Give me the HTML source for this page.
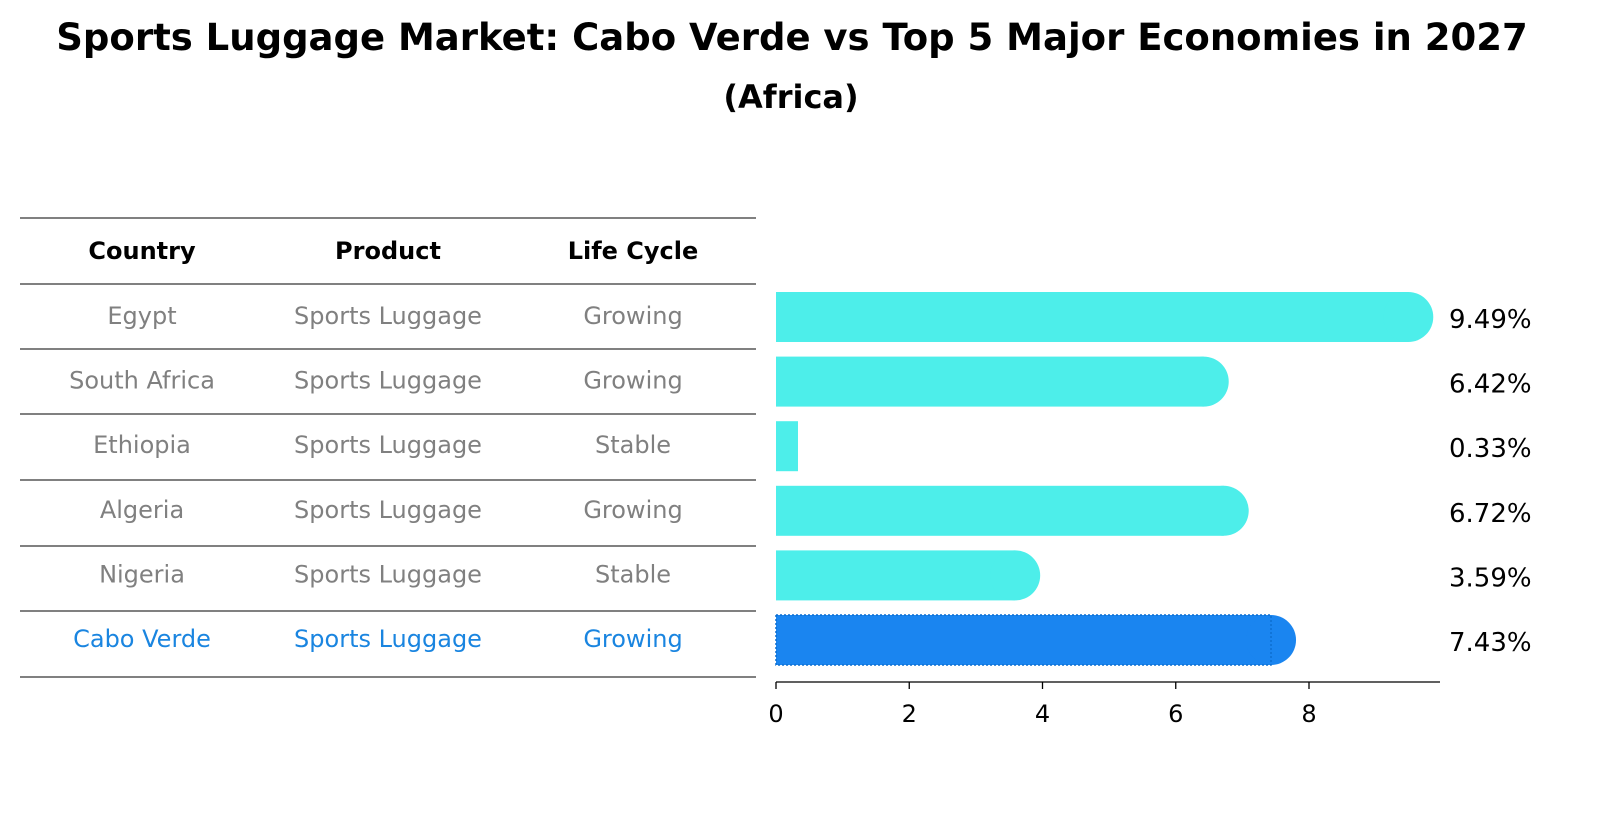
<!DOCTYPE html>
<html><head><meta charset="utf-8">
<style>
body{margin:0;background:#fff;font-family:"Liberation Sans","DejaVu Sans",sans-serif;}
svg text{font-family:"DejaVu Sans","Liberation Sans",sans-serif;}
</style></head>
<body>
<svg id="chart" width="1600" height="823" xmlns="http://www.w3.org/2000/svg">
<text x="792" y="50" text-anchor="middle" font-size="37" font-weight="bold">Sports Luggage Market: Cabo Verde vs Top 5 Major Economies in 2027</text>
<text x="791" y="108" text-anchor="middle" font-size="32" font-weight="bold">(Africa)</text>
<g id="table"></g>
<g id="bars"></g>
</svg>
<script>
const countries=["Egypt","South Africa","Ethiopia","Algeria","Nigeria","Cabo Verde"];
const products=["Sports Luggage","Sports Luggage","Sports Luggage","Sports Luggage","Sports Luggage","Sports Luggage"];
const lifeCycles=["Growing","Growing","Stable","Growing","Stable","Growing"];
const values=[9.49,6.42,0.33,6.72,3.59,7.43];
const ticks=[0,2,4,6,8];
const highlight="Cabo Verde";

const NS="http://www.w3.org/2000/svg";
function mk(tag,attrs,parent){const e=document.createElementNS(NS,tag);for(const k in attrs)e.setAttribute(k,attrs[k]);parent.appendChild(e);return e;}
const x0=776,unit=(1309-776)/8;
const xs=v=>x0+v*unit;
const rowY=i=>318+i*64.6;
const table=document.getElementById('table');
const bars=document.getElementById('bars');
const lines=[218,284,349,414,480,546,611,677];
lines.forEach((y,i)=>{
  const l=mk('line',{x1:20,x2:756,y1:y,y2:y,stroke:'#000','stroke-width':1},table);
  
  
});
const cols=[142,388,633];
["Country","Product","Life Cycle"].forEach((h,j)=>{
  const t=mk('text',{x:cols[j],y:259,'text-anchor':'middle','font-size':24,'font-weight':'bold'},table);
  t.textContent=h;
  
  
});
countries.forEach((c,i)=>{
  const color=c===highlight?'#1a85e0':'#808080';
  const y=rowY(i)+6;
  [c,products[i],lifeCycles[i]].forEach((s,j)=>{
    const t=mk('text',{x:cols[j],y:y,'text-anchor':'middle','font-size':24,fill:color},table);
    t.textContent=s;
    
    
  });
  const v=values[i];
  const hl=c===highlight;
  const fill=hl?'#1a85f0':'#4deeea';
  const g=mk('g',{},bars);
  
  
  const yc=rowY(i)-1, h=50;
  mk('rect',{x:x0,y:yc-h/2,width:xs(v)-x0,height:h,fill:fill},g);
  if(v>1) mk('circle',{cx:xs(v),cy:yc,r:h/2,fill:fill},g);
  if(hl) mk('rect',{x:x0,y:yc-h/2,width:xs(v)-x0,height:h,fill:'none',stroke:'#0d6fd0','stroke-width':1.5,'stroke-dasharray':'2,2'},g);
  const t=mk('text',{x:1449,y:yc+11,'font-size':26},bars);
  t.textContent=v.toFixed(2)+'%';
  
  
});
const ax=mk('line',{x1:x0,x2:1440,y1:682,y2:682,stroke:'#000','stroke-width':1.3},bars);


ticks.forEach(v=>{
  const tl=mk('line',{x1:xs(v),x2:xs(v),y1:682,y2:689,stroke:'#000','stroke-width':1.3},bars);
  
  
  const t=mk('text',{x:xs(v),y:722,'text-anchor':'middle','font-size':24},bars);
  t.textContent=v;
  
  
});
</script>
</body></html>
